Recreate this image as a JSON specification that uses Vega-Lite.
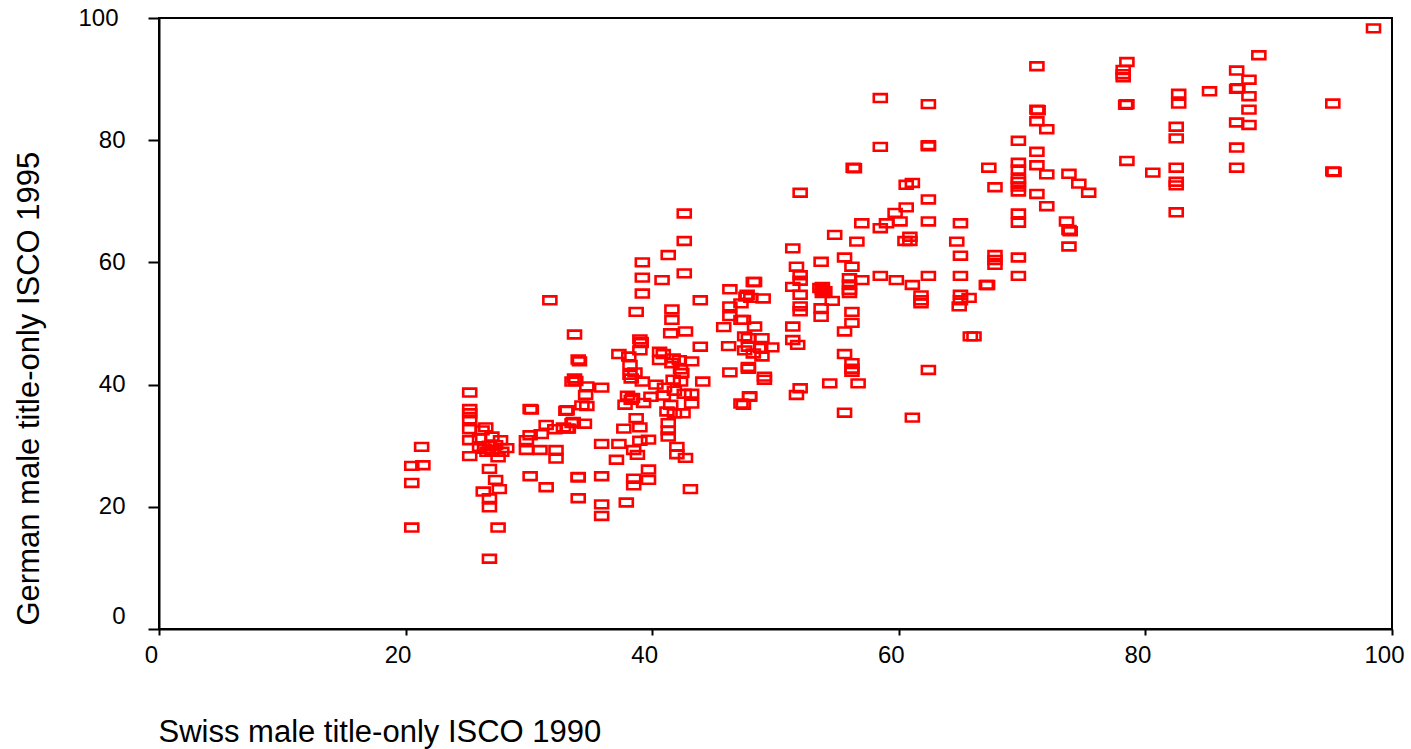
{
  "$schema": "https://vega.github.io/schema/vega-lite/v6.json",
  "autosize": "none",
  "width": 1233,
  "height": 611,
  "padding": {"left": 159, "top": 18, "right": 19, "bottom": 120},
  "background": "white",
  "config": {
    "font": "Liberation Sans",
    "view": {"stroke": "black", "strokeWidth": 2},
    "axis": {"grid": false, "domainColor": "black", "domainWidth": 2, "tickColor": "black", "tickWidth": 2, "labelColor": "black", "titleColor": "black", "labelFont": "Liberation Sans", "titleFont": "Liberation Sans", "labelFontSize": 24, "titleFontSize": 31, "titleFontWeight": "normal"}
  },
  "data": {"values": [
    {"x":20.5,"y":26.7},{"x":20.5,"y":23.9},{"x":20.5,"y":16.6},{"x":21.3,"y":29.8},{"x":21.4,"y":26.8},
    {"x":25.2,"y":38.7},{"x":25.2,"y":36.0},{"x":25.2,"y":34.3},{"x":25.2,"y":32.7},{"x":25.2,"y":30.9},{"x":25.2,"y":28.3},{"x":25.2,"y":35.3},
    {"x":26.5,"y":33.0},{"x":27.0,"y":31.5},{"x":26.0,"y":31.2},{"x":26.0,"y":29.8},{"x":26.4,"y":29.5},{"x":26.8,"y":30.0},{"x":27.0,"y":29.3},{"x":26.6,"y":29.0},{"x":27.3,"y":30.1},{"x":27.7,"y":30.9},{"x":28.2,"y":29.6},{"x":27.5,"y":28.1},{"x":26.8,"y":26.2},{"x":27.3,"y":24.4},{"x":27.6,"y":22.9},{"x":26.3,"y":22.5},{"x":26.8,"y":21.4},{"x":26.8,"y":19.9},{"x":27.5,"y":16.6},{"x":26.8,"y":11.5},{"x":27.8,"y":29.0},{"x":26.2,"y":32.5},
    {"x":30.1,"y":36.0},{"x":30.2,"y":35.9},{"x":33.0,"y":35.7},{"x":31.4,"y":33.4},{"x":33.5,"y":33.7},{"x":32.1,"y":32.7},{"x":30.1,"y":31.7},{"x":31.0,"y":31.9},{"x":29.8,"y":30.9},{"x":29.8,"y":29.3},{"x":30.9,"y":29.3},{"x":32.2,"y":29.3},{"x":32.2,"y":27.9},{"x":30.1,"y":25.0},{"x":31.4,"y":23.2},{"x":34.0,"y":24.9},{"x":34.0,"y":21.4},{"x":33.5,"y":40.5},{"x":31.7,"y":53.8},{"x":32.8,"y":33.0},{"x":33.2,"y":32.8},
    {"x":33.7,"y":48.2},{"x":34.0,"y":44.1},{"x":34.1,"y":43.8},{"x":33.7,"y":41.0},{"x":33.8,"y":40.6},{"x":34.7,"y":39.7},{"x":34.6,"y":38.3},{"x":34.7,"y":36.5},{"x":33.1,"y":35.8},{"x":33.6,"y":33.9},{"x":34.5,"y":33.6},{"x":33.1,"y":32.8},{"x":35.9,"y":39.5},{"x":34.3,"y":36.6},
    {"x":37.3,"y":45.0},{"x":38.1,"y":44.6},{"x":38.2,"y":43.2},{"x":38.2,"y":41.6},{"x":39.0,"y":47.4},{"x":39.0,"y":45.6},{"x":39.2,"y":40.5},{"x":38.3,"y":37.5},{"x":39.3,"y":37.0},{"x":39.9,"y":38.0},{"x":40.6,"y":45.4},{"x":40.9,"y":45.0},{"x":41.7,"y":44.3},{"x":42.2,"y":44.0},{"x":43.2,"y":43.8},{"x":41.7,"y":40.8},{"x":42.4,"y":41.9},{"x":44.1,"y":40.5},{"x":43.2,"y":38.5},{"x":43.2,"y":36.9},{"x":42.5,"y":35.3},{"x":41.2,"y":35.6},{"x":38.7,"y":34.5},{"x":37.7,"y":32.8},{"x":39.0,"y":33.0},{"x":41.3,"y":33.7},{"x":41.3,"y":32.5},{"x":41.3,"y":31.5},{"x":35.9,"y":30.3},{"x":37.3,"y":30.3},{"x":39.0,"y":30.8},{"x":39.7,"y":31.0},{"x":42.0,"y":29.8},{"x":38.5,"y":29.3},{"x":38.8,"y":28.5},{"x":37.1,"y":27.7},{"x":42.0,"y":28.6},{"x":42.7,"y":28.0},{"x":39.7,"y":26.1},{"x":39.7,"y":24.4},{"x":38.5,"y":24.6},{"x":38.5,"y":23.5},{"x":35.9,"y":25.0},{"x":34.0,"y":24.8},{"x":43.1,"y":22.9},{"x":37.9,"y":20.7},{"x":35.9,"y":20.4},{"x":35.9,"y":18.5},
    {"x":38.6,"y":42.0},{"x":38.3,"y":41.0},{"x":40.3,"y":40.0},{"x":41.0,"y":39.5},{"x":41.8,"y":39.0},{"x":42.3,"y":40.5},{"x":40.9,"y":38.2},{"x":41.5,"y":36.7},{"x":38.0,"y":38.2},{"x":38.4,"y":37.8},{"x":37.8,"y":36.7},{"x":41.8,"y":35.3},{"x":42.6,"y":38.5},{"x":40.6,"y":44.0},{"x":41.6,"y":43.5},{"x":42.3,"y":42.5},
    {"x":42.6,"y":68.0},{"x":42.6,"y":63.5},{"x":41.3,"y":61.2},{"x":39.2,"y":60.0},{"x":42.6,"y":58.2},{"x":39.2,"y":57.5},{"x":40.8,"y":57.1},{"x":39.2,"y":54.9},{"x":43.9,"y":53.8},{"x":38.7,"y":51.9},{"x":41.6,"y":52.3},{"x":41.6,"y":50.6},{"x":41.5,"y":48.4},{"x":42.7,"y":48.7},{"x":43.9,"y":46.2},{"x":39.1,"y":47.0},{"x":39.1,"y":46.8},
    {"x":46.3,"y":55.6},{"x":46.3,"y":52.8},{"x":46.3,"y":51.2},{"x":45.8,"y":49.4},{"x":47.2,"y":50.6},{"x":46.2,"y":46.3},{"x":48.2,"y":56.8},{"x":47.7,"y":54.7},{"x":48.0,"y":54.2},{"x":47.2,"y":53.3},{"x":47.8,"y":47.6},{"x":47.8,"y":46.2},{"x":48.2,"y":45.1},{"x":47.8,"y":42.9},{"x":46.3,"y":42.0},{"x":47.2,"y":36.9},{"x":47.9,"y":38.1},{"x":49.0,"y":54.1},{"x":47.4,"y":50.6},{"x":48.3,"y":49.5},{"x":47.5,"y":47.9},{"x":48.9,"y":47.6},{"x":49.7,"y":46.1},{"x":48.8,"y":46.0},{"x":47.5,"y":45.6},{"x":48.9,"y":44.6},{"x":47.8,"y":42.6},{"x":49.1,"y":41.3},{"x":49.1,"y":40.8},{"x":47.9,"y":38.0},{"x":47.4,"y":36.7},{"x":48.3,"y":56.8},{"x":47.6,"y":54.4},
    {"x":52.0,"y":71.4},{"x":51.4,"y":62.3},{"x":53.7,"y":60.1},{"x":55.6,"y":60.8},{"x":56.2,"y":59.3},{"x":51.7,"y":59.3},{"x":52.0,"y":57.9},{"x":51.4,"y":56.0},{"x":52.0,"y":57.0},{"x":56.0,"y":57.4},{"x":57.0,"y":57.1},{"x":53.8,"y":55.0},{"x":53.8,"y":55.5},{"x":53.8,"y":56.0},{"x":54.0,"y":55.3},{"x":53.6,"y":55.8},{"x":56.0,"y":56.4},{"x":56.0,"y":55.5},{"x":56.0,"y":55.0},{"x":54.6,"y":53.7},{"x":53.7,"y":52.5},{"x":53.7,"y":51.1},{"x":52.0,"y":54.7},{"x":52.0,"y":52.8},{"x":52.0,"y":52.0},{"x":51.4,"y":49.5},{"x":51.4,"y":47.3},{"x":51.8,"y":46.5},{"x":56.2,"y":51.9},{"x":56.2,"y":50.1},{"x":55.6,"y":48.7},{"x":55.6,"y":45.0},{"x":56.2,"y":43.5},{"x":56.2,"y":42.6},{"x":56.2,"y":42.1},{"x":54.4,"y":40.2},{"x":56.7,"y":40.2},{"x":52.0,"y":39.4},{"x":51.7,"y":38.3},{"x":55.6,"y":35.4},{"x":54.8,"y":64.5},{"x":56.6,"y":63.4},{"x":57.0,"y":66.4},{"x":56.3,"y":75.5},{"x":56.4,"y":75.4},
    {"x":60.6,"y":72.7},{"x":61.1,"y":73.0},{"x":62.4,"y":70.3},{"x":59.7,"y":68.1},{"x":60.6,"y":69.0},{"x":60.1,"y":66.7},{"x":59.0,"y":66.4},{"x":58.5,"y":65.6},{"x":62.4,"y":66.7},{"x":60.9,"y":64.2},{"x":60.9,"y":63.5},{"x":60.5,"y":63.5},{"x":58.5,"y":57.8},{"x":59.8,"y":57.1},{"x":61.1,"y":56.3},{"x":62.4,"y":57.8},{"x":61.8,"y":54.6},{"x":61.8,"y":53.8},{"x":61.8,"y":53.3},{"x":62.4,"y":42.4},{"x":61.1,"y":34.6},{"x":58.5,"y":86.9},{"x":62.4,"y":85.9},{"x":58.5,"y":78.9},{"x":62.4,"y":79.2},{"x":62.4,"y":79.0},
    {"x":65.0,"y":66.4},{"x":64.7,"y":63.4},{"x":65.0,"y":61.1},{"x":65.0,"y":57.8},{"x":67.8,"y":61.2},{"x":67.8,"y":60.4},{"x":67.8,"y":59.6},{"x":67.1,"y":56.3},{"x":67.2,"y":56.3},{"x":65.0,"y":54.7},{"x":65.7,"y":54.2},{"x":65.0,"y":53.8},{"x":64.9,"y":52.8},{"x":65.8,"y":47.9},{"x":66.1,"y":47.9},{"x":67.3,"y":75.5},{"x":67.8,"y":72.3},
    {"x":71.2,"y":92.1},{"x":71.2,"y":85.0},{"x":71.2,"y":83.1},{"x":72.0,"y":81.8},{"x":69.7,"y":79.9},{"x":71.2,"y":78.1},{"x":69.7,"y":76.3},{"x":69.7,"y":75.2},{"x":69.7,"y":73.7},{"x":69.7,"y":73.2},{"x":69.7,"y":72.4},{"x":69.7,"y":71.6},{"x":71.2,"y":75.9},{"x":72.0,"y":74.4},{"x":71.2,"y":71.2},{"x":72.0,"y":69.2},{"x":73.8,"y":74.5},{"x":74.6,"y":72.9},{"x":75.4,"y":71.4},{"x":69.7,"y":68.0},{"x":69.7,"y":66.5},{"x":73.6,"y":66.7},{"x":73.8,"y":65.3},{"x":73.9,"y":65.1},{"x":73.8,"y":62.6},{"x":69.7,"y":60.8},{"x":69.7,"y":57.8},{"x":71.3,"y":84.9},
    {"x":78.5,"y":92.8},{"x":78.2,"y":91.5},{"x":78.2,"y":90.8},{"x":78.2,"y":90.3},{"x":78.5,"y":85.9},{"x":78.4,"y":85.8},{"x":78.5,"y":76.6},{"x":98.5,"y":98.3},{"x":89.2,"y":93.9},{"x":87.4,"y":91.4},{"x":88.4,"y":89.9},{"x":87.4,"y":88.4},{"x":88.4,"y":87.2},{"x":85.2,"y":88.0},{"x":82.7,"y":87.6},{"x":82.7,"y":86.0},{"x":95.2,"y":86.0},{"x":88.4,"y":85.0},{"x":87.4,"y":82.9},{"x":88.4,"y":82.5},{"x":82.5,"y":82.2},{"x":82.5,"y":80.3},{"x":87.4,"y":78.8},{"x":87.4,"y":75.5},{"x":95.2,"y":74.9},{"x":95.3,"y":74.8},{"x":80.6,"y":74.7},{"x":82.5,"y":75.5},{"x":82.5,"y":73.2},{"x":82.5,"y":72.6},{"x":82.5,"y":68.2},{"x":87.5,"y":88.5}
  ]},
  "mark": {"type": "point", "shape": "M-1,-0.6H1V0.6H-1Z", "filled": false, "stroke": "#ff0000", "strokeWidth": 2.6, "size": 169, "opacity": 1},
  "encoding": {
    "x": {"field": "x", "type": "quantitative", "scale": {"domain": [0, 100], "nice": false, "zero": false},
      "axis": {"title": "Swiss male title-only ISCO 1990", "values": [0, 20, 40, 60, 80, 100], "tickSize": 6, "labelPadding": 8, "labelOffset": -8, "labelFlush": false, "labelOverlap": false, "titleAnchor": "start", "titleAlign": "left", "titleBaseline": "alphabetic", "titleX": -1, "titleY": 112}},
    "y": {"field": "y", "type": "quantitative", "scale": {"domain": [0, 100], "nice": false, "zero": false},
      "axis": {"title": "German male title-only ISCO 1995", "values": [0, 20, 40, 60, 80, 100], "tickSize": 11, "labelPadding": {"condition": {"test": "datum.value === 100", "value": 30}, "value": 23}, "labelOffset": {"condition": {"test": "datum.value === 0", "value": -13}, "value": 0}, "labelFlush": false, "labelOverlap": false, "titleAngle": 270, "titleAlign": "left", "titleBaseline": "alphabetic", "titleX": -121, "titleY": 607}}
  }
}
